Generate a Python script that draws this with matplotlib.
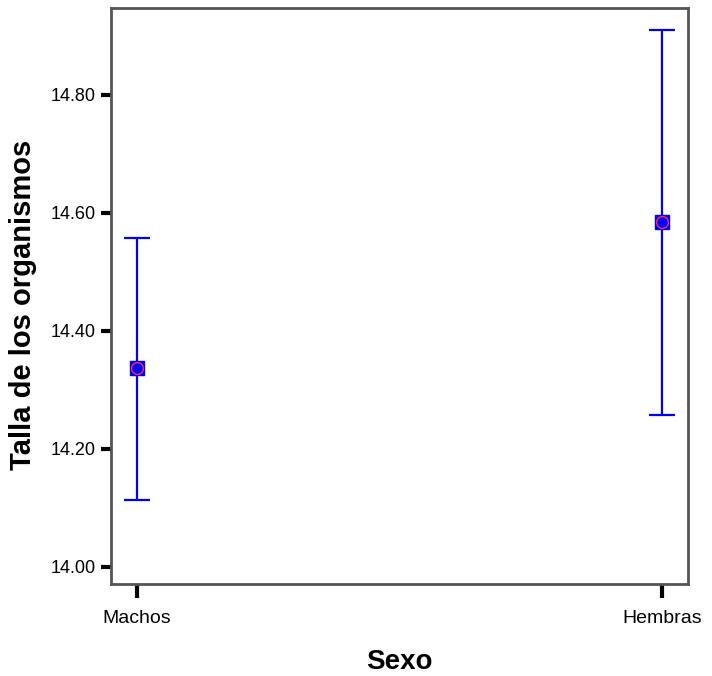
import numpy as np
import matplotlib.pyplot as plt

# Mean size per sex with error bar limits
sexos = ['Machos', 'Hembras']
media = [14.337, 14.584]
limite_inf = [14.114, 14.257]
limite_sup = [14.558, 14.910]
yticks = [14.00, 14.20, 14.40, 14.60, 14.80]

x = np.arange(len(sexos))
media = np.array(media)
err = [media - np.array(limite_inf), np.array(limite_sup) - media]

fig = plt.figure(figsize=(7.12, 6.76), dpi=100)
ax = fig.add_axes([0.1559, 0.1361, 0.8104, 0.8521])

ax.errorbar(x, media, yerr=err, fmt='none', ecolor='#0000ff',
            elinewidth=1.6, capsize=9.5, capthick=1.6, zorder=2)
ax.plot(x, media, 's', color='#0000ff', markersize=10, zorder=3)
ax.plot(x, media, 'o', markerfacecolor='#0000ff', markeredgecolor='#ff3030',
        markeredgewidth=1.0, markersize=8.5, zorder=4)

ax.set_xlim(-0.0495, 1.0495)
ax.set_ylim(13.971, 14.947)
ax.set_xticks(x)
ax.set_xticklabels(sexos)
ax.set_yticks(yticks)
ax.set_yticklabels([f'{v:.2f}' for v in yticks])

tick_font = ['Liberation Sans', 'DejaVu Sans']
for lab in ax.get_xticklabels():
    lab.set_family(tick_font)
    lab.set_fontsize(14)
for lab in ax.get_yticklabels():
    lab.set_family(tick_font)
    lab.set_fontsize(13)

ax.tick_params(axis='y', direction='out', length=7, width=3, color='black', pad=4)
ax.tick_params(axis='x', direction='out', length=10, width=3, color='black', pad=9)

for s in ax.spines.values():
    s.set_color('#555555')
    s.set_linewidth(2)

ax.set_xlabel('Sexo', fontsize=20, fontweight='bold',
              family=['Liberation Sans', 'DejaVu Sans'])
ax.set_ylabel('Talla de los organismos', fontsize=21, fontweight='bold',
              family=['Liberation Sans', 'DejaVu Sans'])
ax.xaxis.set_label_coords(0.5, -0.112)
ax.yaxis.set_label_coords(-0.128, 0.485)

fig.savefig('out.png', dpi=100, facecolor='white')
